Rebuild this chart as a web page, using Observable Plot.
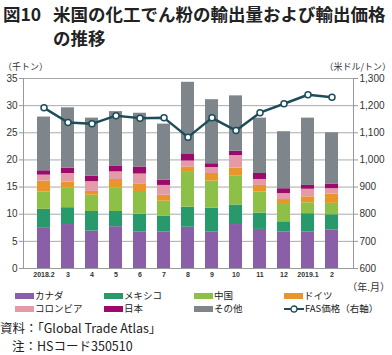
<!DOCTYPE html>
<html><head><meta charset="utf-8">
<script src="https://cdn.jsdelivr.net/npm/d3@7"></script>
<script src="https://cdn.jsdelivr.net/npm/@observablehq/plot@0.6"></script>
<style>
body{margin:0;background:#fff;font-family:"Noto Sans CJK JP","Noto Sans",sans-serif;}
#wrap{position:relative;width:392px;height:355px;overflow:hidden;}
.abs{position:absolute;white-space:nowrap;color:#222;line-height:1.2;}
.title{font-weight:bold;font-size:17.5px;line-height:24px;}
.unit{font-size:9px;color:#333;}
.leg{font-size:9.5px;color:#222;display:flex;align-items:center;}
.sw{display:inline-block;width:19px;height:6px;margin-right:1px;}
#chart{position:absolute;left:0;top:58px;}
</style></head><body>
<div id="wrap">
<div class="abs title" style="left:3px;top:2px;">図10</div>
<div class="abs title" style="left:53px;top:2px;">米国の化工でん粉の輸出量および輸出価格</div>
<div class="abs title" style="left:53px;top:26px;">の推移</div>
<div class="abs unit" style="left:3px;top:62px;">（千トン）</div>
<div class="abs unit" style="right:1px;top:62px;">（米ドル/トン）</div>
<div id="chart"></div>
<div class="abs unit" style="right:2px;top:281px;font-size:10px;">（年.月）</div>
<div id="legend"></div>
<div class="abs" style="left:0px;top:320px;font-size:12.5px;">資料：「Global Trade Atlas」</div>
<div class="abs" style="left:12px;top:338px;font-size:12.5px;">注：HSコード350510</div>
</div>
<script>
const months = ["2018.2","3","4","5","6","7","8","9","10","11","12","2019.1","2"];
const seriesNames = ["カナダ","メキシコ","中国","ドイツ","コロンビア","日本","その他"];
const colors = ["#8b5fa8","#27996a","#8dc046","#e8952c","#e59aa8","#9c0a6c","#7e868c"];
const canada   = [7.4,8.1,6.9,7.7,6.7,6.7,7.6,6.7,8.1,7.2,6.7,6.7,7.1];
const mexico   = [3.5,3.1,3.6,2.8,3.3,2.9,3.7,4.4,3.6,3.0,1.9,3.4,2.8];
const china    = [3.2,3.6,3.0,4.3,4.0,2.8,6.4,5.0,5.3,3.9,3.2,2.0,2.1];
const germany  = [2.0,1.1,0.7,1.6,1.6,1.1,1.0,1.4,1.5,1.2,0.9,1.1,1.7];
const colombia = [1.1,1.6,1.8,1.4,1.8,1.8,1.1,1.1,2.3,1.1,1.1,1.4,1.0];
const japan    = [0.8,1.0,1.0,1.0,1.3,1.0,1.2,0.7,0.8,1.1,0.9,0.7,0.8];
const others   = [9.9,11.1,10.7,10.1,9.9,10.3,13.3,11.8,10.2,10.2,10.5,12.4,9.5];
const fasPrice = [1192,1138,1133,1163,1154,1155,1084,1155,1108,1174,1207,1240,1231];
const leftTicks = [0,5,10,15,20,25,30,35];
const rightTicks = [600,700,800,900,1000,1100,1200,1300];

const seriesVals = [canada,mexico,china,germany,colombia,japan,others];
const rows = [];
seriesNames.forEach((s,i)=>months.forEach((m,j)=>rows.push({month:m,series:s,value:seriesVals[i][j]})));
const toLeft = v => (v-600)/700*35;
const line = months.map((m,j)=>({month:m,v:toLeft(fasPrice[j])}));

const chart = Plot.plot({
  width:392, height:230,
  marginTop:20, marginBottom:20, marginLeft:23, marginRight:39,
  style:{fontFamily:"Liberation Sans, Arial, sans-serif",color:"#333",background:"transparent"},
  x:{domain:months, padding:0.45, label:null},
  y:{domain:[0,35], label:null},
  color:{domain:seriesNames, range:colors},
  marks:[
    Plot.ruleY(leftTicks.slice(1),{stroke:"#aaa",strokeWidth:1}),
    Plot.barY(rows,{x:"month",y:"value",fill:"series",order:seriesNames}),
    Plot.line(line,{x:"month",y:"v",stroke:"#1e4d5a",strokeWidth:2.5}),
    Plot.dot(line,{x:"month",y:"v",r:3,fill:"#fff",stroke:"#1e4d5a",strokeWidth:1.5}),
    Plot.ruleY([0],{stroke:"#999"}),
    Plot.frame({anchor:"left",stroke:"#999"}),
    Plot.frame({anchor:"right",stroke:"#999"}),
    Plot.axisY({anchor:"left",ticks:leftTicks,tickSize:4,tickPadding:2,fontSize:10,stroke:"#999",label:null}),
    Plot.axisY({anchor:"right",ticks:leftTicks,tickSize:4,tickPadding:2,fontSize:10,stroke:"#999",label:null,
      tickFormat:d=>d3.format(",")(rightTicks[leftTicks.indexOf(d)])}),
    Plot.axisX({tickSize:0,tickPadding:4,fontSize:7,fontWeight:"bold",label:null})
  ]
});
document.getElementById("chart").appendChild(chart);

const leg = document.getElementById("legend");
const items = [
  {t:"カナダ",c:colors[0],x:15,y:290},{t:"メキシコ",c:colors[1],x:104,y:290},{t:"中国",c:colors[2],x:194,y:290},{t:"ドイツ",c:colors[3],x:284,y:290},
  {t:"コロンビア",c:colors[4],x:15,y:303},{t:"日本",c:colors[5],x:104,y:303},{t:"その他",c:colors[6],x:194,y:303},{t:"FAS価格（右軸）",c:null,x:284,y:303}
];
items.forEach(it=>{
  const d=document.createElement("div");
  d.className="abs leg";d.style.left=it.x+"px";d.style.top=it.y+"px";
  if(it.c){d.innerHTML=`<span class="sw" style="background:${it.c}"></span>${it.t}`;}
  else{d.innerHTML=`<svg width="20" height="10" style="margin-right:1px"><line x1="0" y1="5" x2="20" y2="5" stroke="#1e4d5a" stroke-width="2"/><circle cx="10" cy="5" r="3" fill="#fff" stroke="#1e4d5a" stroke-width="1.3"/></svg>${it.t}`;}
  leg.appendChild(d);
});
</script>
</body></html>
